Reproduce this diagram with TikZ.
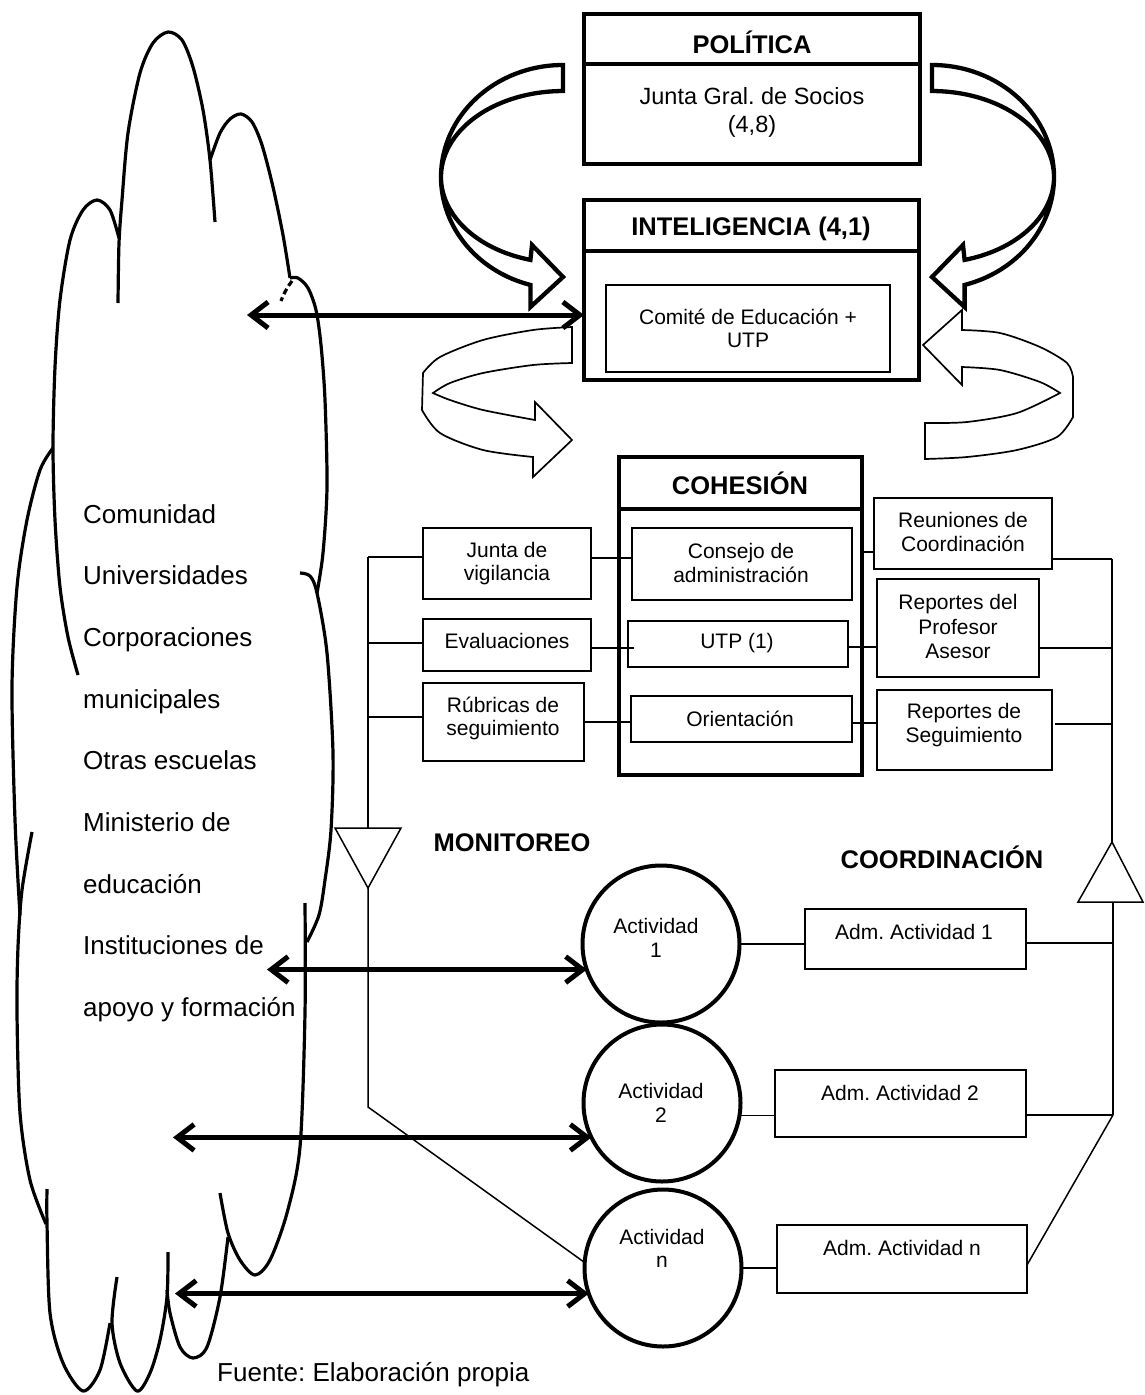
\documentclass[tikz,border=0pt]{standalone}
\usepackage{fontspec}
\setmainfont{Liberation Sans}
\usetikzlibrary{arrows.meta}
\frenchspacing

\begin{document}
\begin{tikzpicture}[x=1pt,y=-1pt,
  box/.style={draw, line width=1.3pt, inner sep=0pt, outer sep=0pt},
  frame/.style={draw, line width=4.5pt, inner sep=0pt, outer sep=0pt},
  divider/.style={line width=4.2pt},
  txt/.style={font=\fontsize{21}{23.5}\selectfont, align=center, inner sep=0pt},
  bigtxt/.style={font=\fontsize{23.5}{28}\selectfont, align=center, inner sep=0pt},
  ttl/.style={font=\fontsize{25.5}{30}\selectfont\bfseries, inner sep=0pt},
  cloudtxt/.style={font=\fontsize{26}{30}\selectfont, anchor=base west, inner sep=0pt},
  link/.style={line width=1.5pt},
  cloudline/.style={line width=3.2pt, line join=round},
  dbl/.style={line width=5pt,
    {Straight Barb[length=17pt,width=26pt]}-{Straight Barb[length=17pt,width=26pt]}},
  act/.style={circle, draw, line width=4pt, minimum size=157pt, inner sep=0pt, outer sep=0pt},
  band/.style={draw, fill=white, line width=4.3pt, line join=miter},
  ribbon/.style={draw, fill=white, line width=1.7pt, line join=miter},
]
\useasboundingbox (0,0) rectangle (1144,1395);

% ---------- cloud outline ----------
\draw[cloudline] plot[smooth] coordinates {(118,303) (119,243) (122,200) (128,133) (140,73) (153,43) (168,32) (182,40) (193,67) (203,110) (210,160) (215,222)};
\draw[cloudline] plot[smooth] coordinates {(78,675) (68,637) (60,587) (55,520) (53,447) (55,367) (60,300) (70,240) (83,210) (97,200) (110,210) (119,238)};
\draw[cloudline] plot[smooth] coordinates {(210,160) (220,133) (230,119) (241,114) (252,122) (262,145) (273,187) (283,235) (290,278)};
\draw[cloudline] plot[smooth] coordinates {(290,278) (298,278) (308,288) (316,310) (321,345) (325,400) (327,487) (323,553) (317,593)};
\draw[cloudline, dash pattern=on 6pt off 3.5pt] (292,281) .. controls (288,286) and (284,293) .. (281,301);
\draw[cloudline] plot[smooth] coordinates {(300,573) (310,576) (317,593) (327,653) (333,753) (331,830) (325,880) (319,915) (307,942)};
\draw[cloudline] plot[smooth] coordinates {(305,903) (305,1013) (300,1147) (287,1213) (270,1260) (255,1275) (240,1260) (228,1233) (220,1193)};
\draw[cloudline] plot[smooth] coordinates {(228,1237) (220,1297) (207,1347) (193,1358) (180,1347) (170,1313) (167,1290)};
\draw[cloudline] plot[smooth] coordinates {(117,1277) (112,1323) (120,1363) (137,1391) (150,1373) (160,1340) (167,1297) (168,1252)};
\draw[cloudline] plot[smooth] coordinates {(47,1189) (47,1223) (50,1313) (63,1363) (83,1391) (100,1370) (110,1323)};
\draw[cloudline] plot[smooth] coordinates {(53,448) (40,470) (27,520) (17,587) (12,687) (15,820) (20,915)};
\draw[cloudline] plot[smooth] coordinates {(32,832) (22,890) (18,947) (17,1013) (20,1113) (30,1180) (46,1224)};

% ---------- cloud text ----------
\node[cloudtxt] (e1) at (83,523) {Comunidad};
\node[cloudtxt] (e2) at (83,584.7) {Universidades};
\node[cloudtxt] (e3) at (83,646.4) {Corporaciones};
\node[cloudtxt] (e4) at (83,708.1) {municipales};
\node[cloudtxt] (e5) at (83,769.8) {Otras escuelas};
\node[cloudtxt] (e6) at (83,831.5) {Ministerio de};
\node[cloudtxt] (e7) at (83,893.2) {educación};
\node[cloudtxt] (e8) at (83,954.9) {Instituciones de};
\node[cloudtxt] (e9) at (83,1016.6) {apoyo y formación};
\node[cloudtxt] (src) at (217,1381) {Fuente: Elaboración propia};

% ---------- big curved arrows between policy and intelligence ----------
\draw[band] (563,65) arc[start angle=-90, end angle=-254.5, x radius=122, y radius=112]
  -- (530.4,307) -- (563,277) -- (532,245) -- (530.4,259.9)
  arc[start angle=-254.5, end angle=-90, x radius=122, y radius=86] -- cycle;
\begin{scope}[xshift=1495pt, xscale=-1]
\draw[band] (563,65) arc[start angle=-90, end angle=-254.5, x radius=122, y radius=112]
  -- (530.4,307) -- (563,277) -- (532,245) -- (530.4,259.9)
  arc[start angle=-254.5, end angle=-90, x radius=122, y radius=86] -- cycle;
\end{scope}

% ---------- ribbon arrows around intelligence ----------
\draw[ribbon] (572,327) -- plot[smooth] coordinates {(572,327) (533,330) (483,340) (440,357) (423,373)}
  -- (422,410) -- plot[smooth] coordinates {(422,410) (440,433) (483,450) (533,457)}
  -- (533,477) -- (572,440) -- (535,402) -- (535,420)
  -- plot[smooth] coordinates {(535,420) (483,410) (450,400) (433,393)}
  -- plot[smooth] coordinates {(433,393) (450,383) (483,373) (533,365) (572,363)} -- cycle;
\draw[ribbon] (923,345) -- (962,310) -- (962,330)
  -- plot[smooth] coordinates {(962,330) (1000,333) (1040,347) (1067,363) (1073,377)}
  -- (1073,417) -- plot[smooth] coordinates {(1073,417) (1057,437) (1017,450) (967,457) (925,459)}
  -- (925,423) -- plot[smooth] coordinates {(925,423) (967,422) (1017,413) (1060,393)}
  -- plot[smooth] coordinates {(1060,393) (1040,382) (1000,370) (962,367)}
  -- (962,385) -- cycle;

% ---------- policy ----------
\node[frame, minimum width=336pt, minimum height=150pt] (pol) at (752,89) {};
\coordinate (hpd) at (0,64);
\draw[divider] (pol.west |- hpd) -- (pol.east |- hpd);
\node[ttl] (polt) at (752,42) {POLÍTICA};
\node[bigtxt] (polx) at (752,112) {Junta Gral. de Socios\\(4,8)};

% ---------- intelligence ----------
\node[frame, minimum width=335pt, minimum height=180pt] (intel) at (751.5,290) {};
\coordinate (hid) at (0,251);
\draw[divider] (intel.west |- hid) -- (intel.east |- hid);
\node[ttl] (intt) at (751,229) {INTELIGENCIA (4,1)};
\node[box, minimum width=284pt, minimum height=87pt] (comite) at (748,328.5) {};
\node[txt] (comitet) at (748,328.5) {Comité de Educación +\\UTP};

% ---------- cohesion ----------
\node[frame, minimum width=243pt, minimum height=318pt] (coh) at (740.5,616) {};
\coordinate (hcd) at (0,509);
\draw[divider] (coh.west |- hcd) -- (coh.east |- hcd);
\node[ttl] (coht) at (740,483) {COHESIÓN};
\node[box, minimum width=220pt, minimum height=72pt] (consejo) at (742,564) {};
\node[txt] at (741,563) {Consejo de\\administración};
\node[box, minimum width=220pt, minimum height=46pt] (utp) at (738,644) {};
\node[txt] at (737,643) {UTP (1)};
\node[box, minimum width=221pt, minimum height=46pt] (orient) at (741.5,719) {};
\node[txt] at (740,719) {Orientación};

% monitoring side boxes
\node[box, minimum width=168pt, minimum height=71pt] (junta) at (507,563.5) {};
\node[txt] at (507,563.5) {Junta de\\vigilancia};
\node[box, minimum width=168pt, minimum height=52pt] (eval) at (507,645) {};
\node[txt] at (507,641) {Evaluaciones};
\node[box, minimum width=161pt, minimum height=78pt] (rub) at (503.5,722) {};
\node[txt] at (503,718.5) {Rúbricas de\\seguimiento};

% coordination side boxes
\node[box, minimum width=178pt, minimum height=71pt] (reun) at (963,533.5) {};
\node[txt] at (963,532) {Reuniones de\\Coordinación};
\node[box, minimum width=162pt, minimum height=98pt] (prof) at (958,628) {};
\node[txt, font=\fontsize{21}{24.5}\selectfont] at (958,626.5) {Reportes del\\Profesor\\Asesor};
\node[box, minimum width=175pt, minimum height=80pt] (segu) at (964.5,730) {};
\node[txt] at (964,725) {Reportes de\\Seguimiento};

% ---------- links inside the cohesion block ----------
\coordinate (h1) at (0,558);
\coordinate (h2) at (0,648);
\coordinate (h3) at (0,722);
\draw[link] (junta.east |- h1) -- (consejo.west |- h1);
\draw[link] (eval.east |- h2) -- ([xshift=6pt]utp.west |- h2);
\draw[link] (rub.east |- h3) -- (orient.west |- h3);
\coordinate (g1) at (0,552);
\coordinate (g2) at (0,647);
\coordinate (g3) at (0,723);
\draw[link] (coh.east |- g1) -- (reun.west |- g1);
\draw[link] (utp.east |- g2) -- (prof.west |- g2);
\draw[link] (orient.east |- g3) -- (segu.west |- g3);

% ---------- monitoring channel ----------
\coordinate (mb1) at (368,557);
\coordinate (mb2) at (368,643);
\coordinate (mb3) at (368,717);
\coordinate (mtop) at (368,828);
\coordinate (mapex) at (368,888);
\coordinate (mbend) at (368,1107);
\draw[link] (mb1) -- (mtop);
\draw[link] (mb1) -- (mb1 -| junta.west);
\draw[link] (mb2) -- (mb2 -| eval.west);
\draw[link] (mb3) -- (mb3 -| rub.west);
\draw[link, line join=miter] (335,828) -- (401,828) -- (mapex) -- cycle;
\node[ttl] (mon) at (512,843) {MONITOREO};

% ---------- coordination channel ----------
\coordinate (cb1) at (1112,559);
\coordinate (cb2) at (1112,648);
\coordinate (cb3) at (1112,724);
\coordinate (ctop) at (1112,842);
\coordinate (cbase) at (1113,902);
\coordinate (ca1) at (1113,943);
\coordinate (ca2) at (1113,1115);
\draw[link] (cb1) -- (ctop);
\draw[link] (reun.east |- cb1) -- (cb1);
\draw[link] (prof.east |- cb2) -- (cb2);
\draw[link] ([xshift=3pt]segu.east |- cb3) -- (cb3);
\draw[link, line join=miter] (1078,902) -- (1143,902) -- (ctop) -- cycle;
\node[ttl] (coord) at (942,857) {COORDINACIÓN};

% ---------- activities ----------
\node[act] (c1) at (661,944) {};
\node[txt] at (656,938) {Actividad\\1};
\node[act] (c2) at (662,1103) {};
\node[txt] at (661,1103) {Actividad\\2};
\node[act] (cn) at (663,1268) {};
\node[txt] at (662,1248.5) {Actividad\\n};

\node[box, minimum width=221pt, minimum height=60pt] (adm1) at (915.5,939) {};
\node[txt] at (914,932) {Adm. Actividad 1};
\node[box, minimum width=251pt, minimum height=67pt] (adm2) at (900.5,1103.5) {};
\node[txt] at (900,1093) {Adm. Actividad 2};
\node[box, minimum width=250pt, minimum height=68pt] (admn) at (902,1259) {};
\node[txt] at (902,1248) {Adm. Actividad n};

\draw[link] (c1.east) -- (c1.east -| adm1.west);
\draw[link] (c2.-9) -- (c2.-9 -| adm2.west);
\draw[link] (cn.east) -- (cn.east -| admn.west);
\draw[link] (cbase) -- (ca2);
\draw[link] (adm1.east |- ca1) -- (ca1);
\draw[link] (adm2.east |- ca2) -- (ca2);
\draw[link] ([yshift=-6pt]admn.east) -- (ca2);
\draw[link] (mapex) -- (mbend) -- (cn.176);

% ---------- exchanges with the environment ----------
\coordinate (t1) at (247,315);
\coordinate (t2) at (267,969);
\coordinate (t3) at (173,1137);
\coordinate (t4) at (175,1293);
\draw[dbl] (t1) -- (t1 -| intel.west);
\draw[dbl] (t2 |- c1.199) -- (c1.199);
\draw[dbl] (t3 |- c2.206) -- (c2.206);
\draw[dbl] (t4 |- cn.199) -- (cn.199);
\end{tikzpicture}
\end{document}
